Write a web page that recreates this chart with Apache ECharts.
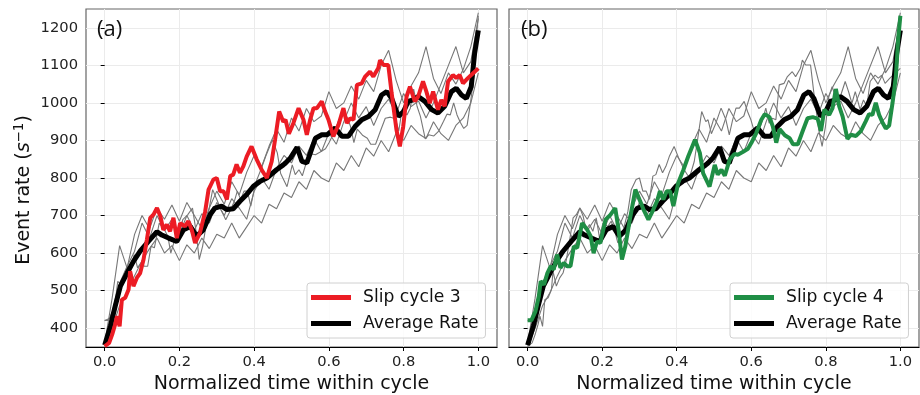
<!DOCTYPE html>
<html>
<head>
<meta charset="utf-8">
<script src="https://cdn.jsdelivr.net/npm/echarts@6/dist/echarts.min.js"></script>
<style>
html,body{margin:0;padding:0;background:#fff;}
#main{width:920px;height:395px;}
</style>
</head>
<body>
<div id="main"></div>
<script>
// tick values
var xTicks = [0, 0.2, 0.4, 0.6, 0.8, 1.0];
var yTicks = [400, 500, 600, 700, 800, 900, 1000, 1100, 1200];

// average rate over all cycles
var avgX = [0, .015, .028, .042, .06, .077, .095, .117, .14, .153, .171, .193, .211, .229, .246, .264, .282, .295, .313, .327,
  .344, .362, .38, .398, .416, .434, .46, .478, .484, .497, .515, .528, .541, .555, .564, .581, .595, .617, .635, .652,
  .67, .688, .706, .724, .741, .755, .768, .786, .8, .812, .826, .839, .857, .875, .892, .91, .928, .941, .955, .968,
  .981, .99, 1.0];
var avgY = [355, 405, 458, 512, 547, 578, 605, 631, 657, 648, 640, 631, 662, 671, 645, 662, 702, 720, 725, 716,
  718, 738, 756, 778, 791, 800, 822, 835, 840, 853, 882, 844, 840, 880, 906, 915, 915, 933, 911, 911,
  937, 955, 964, 982, 1021, 1030, 1012, 964, 977, 1004, 1008, 1017, 1004, 982, 973, 991, 1030, 1039, 1021, 1012,
  1043, 1131, 1193];

// slip cycle 3
var c3X = [0, .012, .02, .028, .033, .04, .046, .055, .064, .068, .077, .086, .095, .104, .113, .122, .131, .14, .149, .157,
  .166, .175, .184, .193, .202, .215, .224, .233, .242, .255, .269, .278, .291, .3, .309, .318, .327, .336, .344, .353,
  .362, .371, .38, .393, .407, .42, .434, .447, .456, .467, .478, .484, .493, .505, .519, .532, .541, .55, .559, .568,
  .581, .59, .599, .612, .626, .639, .648, .657, .666, .675, .688, .697, .71, .719, .732, .737, .746, .759, .768, .781,
  .79, .799, .808, .817, .83, .839, .852, .861, .87, .879, .892, .901, .91, .919, .932, .941, .95, .959, .972, .986, 1.0];
var c3Y = [352, 361, 383, 410, 432, 405, 476, 481, 503, 552, 512, 534, 547, 583, 636, 694, 703, 720, 698, 662,
  676, 658, 694, 640, 680, 671, 685, 662, 627, 654, 711, 769, 796, 800, 765, 765, 743, 805, 809, 836,
  814, 831, 857, 884, 849, 822, 800, 844, 902, 977, 950, 955, 918, 946, 986, 955, 915, 955, 986, 986,
  1004, 977, 955, 911, 942, 986, 946, 959, 955, 1048, 1052, 1070, 1083, 1070, 1092, 1114, 1101, 1101, 1026, 928,
  884, 937, 1017, 1043, 1004, 1017, 1057, 1030, 999, 1030, 982, 1008, 991, 1057, 1074, 1066, 1074, 1052, 1066, 1079, 1092];

// slip cycle 4
var c4X = [0, .01, .021, .03, .035, .044, .053, .062, .07, .079, .088, .097, .106, .115, .124, .133, .146, .16, .169, .177,
  .186, .195, .209, .222, .235, .244, .253, .262, .275, .289, .302, .311, .324, .333, .347, .355, .364, .373, .382, .391,
  .404, .418, .431, .449, .462, .471, .488, .502, .51, .52, .529, .542, .555, .564, .577, .591, .6, .613, .627, .636,
  .649, .658, .667, .676, .69, .703, .712, .725, .738, .751, .765, .778, .787, .796, .809, .818, .827, .836, .845, .858,
  .867, .881, .894, .907, .916, .925, .934, .943, .952, .961, .97, .979, .988, .994, 1.0];
var c4Y = [421, 421, 445, 485, 525, 516, 547, 565, 556, 596, 561, 574, 565, 565, 618, 614, 680, 662, 645, 600,
  631, 627, 689, 702, 720, 662, 583, 618, 694, 769, 738, 716, 689, 707, 738, 765, 743, 765, 765, 725,
  787, 822, 858, 902, 867, 812, 777, 835, 809, 822, 806, 849, 864, 862, 869, 878, 893, 919, 955, 970,
  962, 937, 894, 930, 914, 906, 890, 890, 925, 959, 962, 958, 925, 982, 968, 986, 1037, 991, 964, 904,
  915, 912, 925, 951, 970, 968, 1000, 968, 948, 932, 940, 1000, 1070, 1168, 1232];

// remaining cycles (grey)
var gridX = [0, .02, .04, .06, .08, .10, .12, .14, .16, .18, .20, .22, .24, .26, .28, .30, .32, .34, .36, .38,
  .40, .42, .44, .46, .48, .50, .52, .54, .56, .58, .60, .62, .64, .66, .68, .70, .72, .74, .76, .78,
  .80, .82, .84, .86, .88, .90, .92, .94, .96, .98, 1.0];
var c1Y = [360, 480, 620, 560, 650, 700, 665, 720, 690, 728, 685, 735, 700, 665, 720, 765, 730, 790, 755, 815,
  860, 830, 885, 930, 895, 960, 925, 985, 950, 965, 1030, 985, 1000, 1045, 1010, 1060, 1030, 1100, 1140, 1060,
  1000, 1045, 1080, 1150, 1065, 1025, 1080, 1050, 1090, 1150, 1240];
var c2Y = [420, 430, 520, 565, 605, 680, 640, 700, 660, 690, 650, 700, 660, 705, 680, 735, 700, 745, 720, 690,
  765, 800, 770, 825, 860, 840, 885, 860, 905, 870, 920, 890, 950, 1000, 960, 990, 940, 985, 1010, 970,
  1025, 990, 1005, 960, 1000, 1050, 1100, 1150, 1080, 1110, 1225];
var c5Y = [350, 400, 460, 495, 540, 580, 612, 640, 600, 620, 580, 622, 600, 640, 612, 650, 640, 680, 640, 670,
  700, 680, 730, 718, 760, 748, 790, 770, 820, 800, 790, 840, 820, 860, 830, 880, 858, 900, 870, 920,
  900, 940, 918, 905, 950, 918, 900, 940, 960, 1000, 1080];

var font = 'DejaVu Sans';

function pairs(xs, ys){
	var out = [];
	for(var i=0;i<xs.length;i++) out.push([xs[i], ys[i]]);
	return out;
}

function greyLine(xs, ys, g){
	return {type:'line', xAxisIndex:g, yAxisIndex:g, data:pairs(xs, ys), symbol:'none',
		lineStyle:{color:'#777', width:1.1}, z:2, silent:true};
}

function thickLine(name, xs, ys, g, color, w, z){
	return {type:'line', name:name, xAxisIndex:g, yAxisIndex:g, data:pairs(xs, ys), symbol:'none',
		lineStyle:{color:color, width:w}, itemStyle:{color:color}, z:z};
}

function xAxisFor(g){
	return {
		type:'value', gridIndex:g, min:-0.05, max:1.05,
		axisLine:{show:true, onZero:false, lineStyle:{color:'#000', width:1.2}},
		axisTick:{show:true, length:4, customValues:xTicks, lineStyle:{color:'#000'}},
		axisLabel:{customValues:xTicks, fontSize:14.7, color:'#222', margin:8, fontFamily:font,
			formatter:function(v){ return v.toFixed(1); }},
		splitLine:{show:true, lineStyle:{color:'#ebebeb', width:1}},
		name:'Normalized time within cycle', nameLocation:'middle', nameGap:27,
		nameTextStyle:{fontSize:19, color:'#111', fontFamily:font}
	};
}

function yAxisFor(g){
	var ax = {
		type:'value', gridIndex:g, min:350, max:1250,
		axisLine:{show:false},
		axisTick:{show:true, length:4, customValues:yTicks, lineStyle:{color:'#000'}},
		axisLabel:{show:g===0, customValues:yTicks, fontSize:14.7, color:'#222', margin:8, fontFamily:font,
			formatter:function(v){ return String(v); }},
		splitLine:{show:true, lineStyle:{color:'#ebebeb', width:1}}
	};
	if(g===0){
		ax.name = '{n|Event rate (}{i|s}{s|−1}{n|)}';
		ax.nameLocation = 'middle';
		ax.nameGap = 50;
		ax.nameTextStyle = {fontSize:19, color:'#111', fontFamily:font, padding:[0,24,0,0], rich:{
			n:{fontSize:19, color:'#111', fontFamily:font},
			i:{fontSize:19, color:'#111', fontFamily:font, fontStyle:'italic'},
			s:{fontSize:13.5, color:'#111', fontFamily:font, padding:[0,0,10,0]}
		}};
	}
	return ax;
}

function legendFor(left, names){
	return {
		data:names, orient:'vertical', left:left, top:283,
		icon:'rect', itemWidth:40, itemHeight:5, itemGap:7,
		padding:[5,7,5,4],
		backgroundColor:'rgba(255,255,255,0.85)', borderColor:'#d0d0d0', borderWidth:1, borderRadius:3,
		textStyle:{fontSize:17.2, color:'#111', fontFamily:font, lineHeight:19, padding:[0,0,0,7]}
	};
}

var myChart = echarts.init(document.getElementById('main'), null, {renderer:'canvas'});

var option = {
	animation:false,
	backgroundColor:'#fff',
	title:[
		{text:'(a)', left:92, top:14, textStyle:{fontSize:22, fontWeight:'normal', color:'#111', fontFamily:'Open Sans'}},
		{text:'(b)', left:516, top:14, textStyle:{fontSize:22, fontWeight:'normal', color:'#111', fontFamily:'Open Sans'}}
	],
	grid:[
		{left:86, top:9, width:411, height:338, show:true, borderColor:'#666', borderWidth:1.2,
			backgroundColor:'transparent', outerBoundsMode:'none'},
		{left:509, top:9, width:410, height:338, show:true, borderColor:'#666', borderWidth:1.2,
			backgroundColor:'transparent', outerBoundsMode:'none'}
	],
	xAxis:[xAxisFor(0), xAxisFor(1)],
	yAxis:[yAxisFor(0), yAxisFor(1)],
	legend:[
		legendFor(307, ['Slip cycle 3', 'Average Rate']),
		legendFor(730, ['Slip cycle 4', 'Average Rate'])
	],
	series:[
		// panel (a)
		greyLine(gridX, c1Y, 0),
		greyLine(gridX, c2Y, 0),
		greyLine(gridX, c5Y, 0),
		greyLine(c4X, c4Y, 0),
		thickLine('Average Rate', avgX, avgY, 0, '#000', 5, 4),
		thickLine('Slip cycle 3', c3X, c3Y, 0, '#ec1c24', 4, 5),
		// panel (b)
		greyLine(gridX, c1Y, 1),
		greyLine(gridX, c2Y, 1),
		greyLine(gridX, c5Y, 1),
		greyLine(c3X, c3Y, 1),
		thickLine('Average Rate', avgX, avgY, 1, '#000', 5, 4),
		thickLine('Slip cycle 4', c4X, c4Y, 1, '#1f8e45', 4, 5)
	]
};
myChart.setOption(option);
</script>
</body>
</html>
